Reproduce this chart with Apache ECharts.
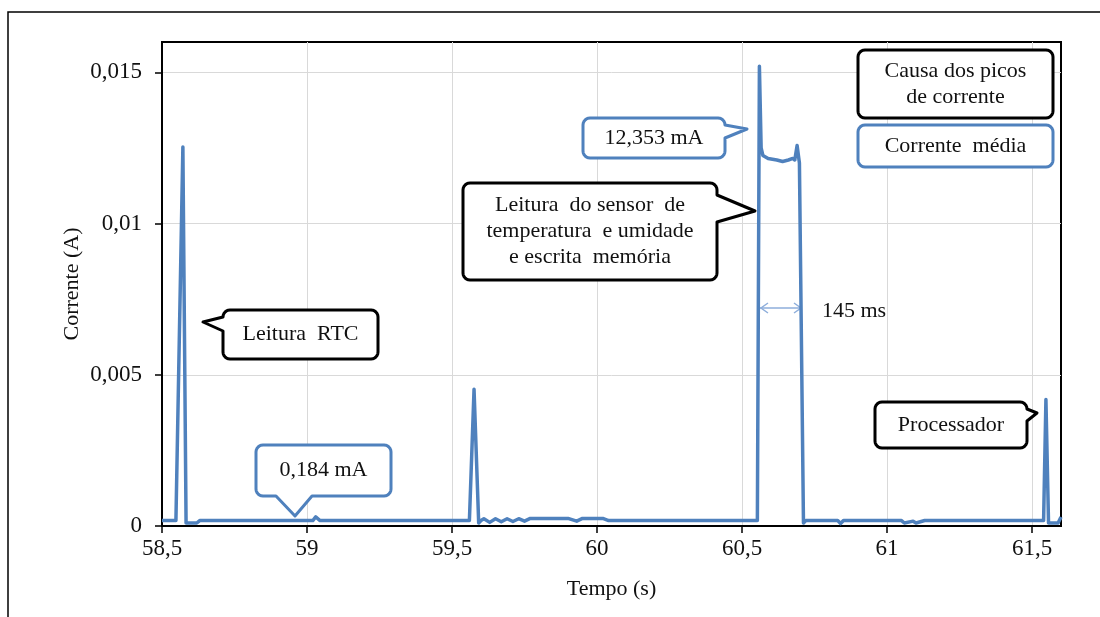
<!DOCTYPE html>
<html>
<head>
<meta charset="utf-8">
<script src="https://cdn.jsdelivr.net/npm/echarts@6/dist/echarts.min.js"></script>
<style>
  html, body { margin: 0; padding: 0; background: #fff; }
  #chart { width: 1100px; height: 617px; }
</style>
</head>
<body>
<div id="chart"></div>
<script>
// tempo (s)
const tempo = [
  58.500, 58.548, 58.572, 58.583, 58.620, 58.630,
  59.020, 59.030, 59.045,
  59.560, 59.576, 59.592, 59.600, 59.610, 59.630, 59.650, 59.670, 59.690, 59.710,
  59.730, 59.750, 59.770, 59.850, 59.900, 59.930, 59.950, 60.020, 60.040,
  60.553, 60.560, 60.566, 60.572, 60.590, 60.620, 60.640, 60.660, 60.675, 60.682,
  60.690, 60.698, 60.712, 60.720,
  60.830, 60.840, 60.850, 61.050, 61.060, 61.090, 61.100, 61.130,
  61.540, 61.548, 61.557, 61.590, 61.600
]
// corrente (A)
const corrente = [
  0.00018, 0.00018, 0.01253, 0.00010, 0.00010, 0.00018,
  0.00018, 0.00030, 0.00018,
  0.00018, 0.00452, 0.00010, 0.00018, 0.00024, 0.00012, 0.00024, 0.00014, 0.00024, 0.00015,
  0.00024, 0.00016, 0.00025, 0.00025, 0.00025, 0.00016, 0.00025, 0.00025, 0.00018,
  0.00018, 0.01520, 0.01250, 0.01225, 0.01215, 0.01210, 0.01205, 0.01210, 0.01215, 0.01210,
  0.01258, 0.01200, 0.00010, 0.00018,
  0.00018, 0.00008, 0.00018, 0.00018, 0.00010, 0.00016, 0.00010, 0.00018,
  0.00018, 0.00418, 0.00010, 0.00010, 0.00030
]
const xTicks = [58.5, 59, 59.5, 60, 60.5, 61, 61.5]
const yTicks = [0, 0.005, 0.01, 0.015]

const FONT = '"Liberation Serif", "Times New Roman", serif'
const BLUE = '#4f81bd'
const R = 7

// balão de texto (retângulo arredondado + ponta)
function bubble(x, y, w, h, r, tail) {
  const pts = []
  const arc = (cx, cy, a0, a1) => {
    for (let i = 0; i <= 6; i++) {
      const a = (a0 + (a1 - a0) * i / 6) * Math.PI / 180
      pts.push([cx + r * Math.cos(a), cy + r * Math.sin(a)])
    }
  }
  let a = 0, b = 0
  if (tail) {
    if (tail.side === 'bottom') {
      a = Math.max(tail.a, x + r)
      b = Math.min(tail.b, x + w - r)
    } else {
      a = Math.max(tail.a, y + r)
      b = Math.min(tail.b, y + h - r)
    }
  }
  arc(x + r, y + r, 180, 270)
  arc(x + w - r, y + r, 270, 360)
  if (tail && tail.side === 'right') {
    pts.push([x + w, a], [tail.tx, tail.ty], [x + w, b])
  }
  arc(x + w - r, y + h - r, 0, 90)
  if (tail && tail.side === 'bottom') {
    pts.push([b, y + h], [tail.tx, tail.ty], [a, y + h])
  }
  arc(x + r, y + h - r, 90, 180)
  if (tail && tail.side === 'left') {
    pts.push([x, b], [tail.tx, tail.ty], [x, a])
  }
  return pts
}

function callout(x, y, w, h, color, text, tail) {
  return {
    type: 'group',
    z: 100,
    children: [
      {
        type: 'polygon',
        z: 100,
        shape: { points: bubble(x, y, w, h, R, tail) },
        style: { fill: '#fff', stroke: color, lineWidth: 3, lineJoin: 'round' }
      },
      {
        type: 'text',
        z: 101,
        style: {
          text: text,
          x: x + w / 2,
          y: y + h / 2,
          align: 'center',
          verticalAlign: 'middle',
          font: '22px ' + FONT,
          lineHeight: 26,
          fill: '#111'
        }
      }
    ]
  }
}

const fmt = v => {
  return String(v).replace('.', ',')
}

const chart = echarts.init(document.getElementById('chart'))

const arrowY = 308
const ax0 = 760
const ax1 = 802

chart.setOption({
  backgroundColor: '#fff',
  animation: false,
  grid: {
    left: 162,
    right: 39,
    top: 42,
    bottom: 91,
    show: true,
    borderColor: '#000',
    borderWidth: 2
  },
  xAxis: {
    type: 'value',
    min: 58.5,
    max: 61.6,
    interval: 0.5,
    name: 'Tempo (s)',
    nameLocation: 'middle',
    nameGap: 52,
    nameTextStyle: { fontFamily: FONT, fontSize: 22, color: '#111' },
    axisLine: { show: true, lineStyle: { color: '#000', width: 2 } },
    axisTick: { show: true, length: 7, lineStyle: { color: '#000', width: 1.5 }, customValues: xTicks },
    axisLabel: {
      customValues: xTicks,
      fontFamily: FONT,
      fontSize: 23,
      color: '#111',
      margin: 11,
      formatter: fmt
    },
    splitLine: { show: true, lineStyle: { color: '#d9d9d9', width: 1 } }
  },
  yAxis: {
    type: 'value',
    min: 0,
    max: 0.016,
    interval: 0.005,
    name: 'Corrente (A)',
    nameLocation: 'middle',
    nameGap: 79,
    nameMoveOverlap: false,
    nameTextStyle: { fontFamily: FONT, fontSize: 22, color: '#111' },
    axisLine: { show: true, lineStyle: { color: '#000', width: 2 } },
    axisTick: { show: true, length: 7, lineStyle: { color: '#000', width: 1.5 }, customValues: yTicks },
    axisLabel: {
      customValues: yTicks,
      fontFamily: FONT,
      fontSize: 23,
      color: '#111',
      margin: 20,
      formatter: v => {
        const k = v / 0.005
        if (Math.abs(k - Math.round(k)) > 1e-6) return ''
        return fmt(v)
      }
    },
    splitLine: { show: true, lineStyle: { color: '#d9d9d9', width: 1 } }
  },
  series: [{
    type: 'line',
    data: tempo.map((t, i) => [t, corrente[i]]),
    showSymbol: false,
    lineStyle: { color: BLUE, width: 3.5, join: 'round' },
    itemStyle: { color: BLUE },
    clip: true
  }],
  graphic: [
    // moldura externa
    {
      type: 'rect',
      z: 0,
      shape: { x: 8, y: 12, width: 1110, height: 640 },
      style: { fill: 'none', stroke: '#000', lineWidth: 1.5 }
    },
    callout(223, 310, 155, 49, '#000', 'Leitura  RTC',
      { side: 'left', a: 315, b: 331, tx: 203, ty: 322 }),
    callout(256, 445, 135, 51, BLUE, '0,184 mA',
      { side: 'bottom', a: 276, b: 312, tx: 295, ty: 516 }),
    callout(583, 118, 142, 40, BLUE, '12,353 mA',
      { side: 'right', a: 121, b: 138, tx: 747, ty: 129 }),
    callout(463, 183, 254, 97, '#000', 'Leitura  do sensor  de\ntemperatura  e umidade\ne escrita  memória',
      { side: 'right', a: 195, b: 222, tx: 755, ty: 211 }),
    callout(858, 50, 195, 68, '#000', 'Causa dos picos\nde corrente'),
    callout(858, 125, 195, 42, BLUE, 'Corrente  média'),
    callout(875, 402, 152, 46, '#000', 'Processador',
      { side: 'right', a: 404, b: 421, tx: 1037, ty: 413 }),
    // seta de 145 ms
    {
      type: 'group',
      z: 100,
      children: [
        { type: 'line', shape: { x1: ax0, y1: arrowY, x2: ax1, y2: arrowY }, style: { stroke: '#8eaedb', lineWidth: 1.5 } },
        { type: 'polyline', shape: { points: [[ax0 + 8, arrowY - 5], [ax0 + 1, arrowY], [ax0 + 8, arrowY + 5]] }, style: { stroke: '#8eaedb', lineWidth: 1.5, fill: 'none' } },
        { type: 'polyline', shape: { points: [[ax1 - 8, arrowY - 5], [ax1 - 1, arrowY], [ax1 - 8, arrowY + 5]] }, style: { stroke: '#8eaedb', lineWidth: 1.5, fill: 'none' } }
      ]
    },
    {
      type: 'text',
      z: 100,
      style: { text: '145 ms', x: 822, y: 311, verticalAlign: 'middle', font: '22px ' + FONT, fill: '#111' }
    }
  ]
})
</script>
</body>
</html>
